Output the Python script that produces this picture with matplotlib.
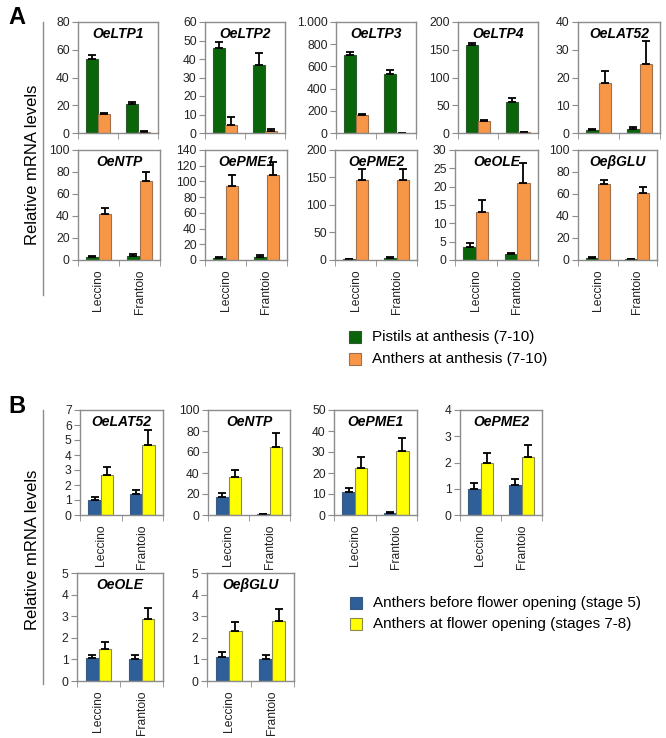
import matplotlib
matplotlib.use('Agg')
import matplotlib.pyplot as plt
from matplotlib.lines import Line2D
from matplotlib.patches import Rectangle
from matplotlib.ticker import FuncFormatter
import numpy as np

plt.rcParams['font.family'] = ['Liberation Sans', 'DejaVu Sans']

cultivars = ['Leccino', 'Frantoio']

# panel A: pistils vs anthers at anthesis (7-10)
genes_a = ['OeLTP1', 'OeLTP2', 'OeLTP3', 'OeLTP4', 'OeLAT52',
           'OeNTP', 'OePME1', 'OePME2', 'OeOLE', 'OeβGLU']
pistils_a = [[53, 21], [46, 37], [700, 530], [158, 55], [1.0, 1.5],
             [3, 4], [3, 4], [2, 4], [3.5, 1.5], [2, 1]]
pistils_a_err = [[3, 1.5], [3, 6], [30, 40], [5, 8], [0.5, 0.6],
                 [0.6, 1], [1, 2], [0.5, 1], [1.0, 0.3], [0.5, 0.3]]
anthers_a = [[14, 0.8], [4.5, 1], [165, 2], [22, 1], [18, 25],
             [42, 72], [94, 108], [146, 145], [13, 21], [69, 61]]
anthers_a_err = [[0.5, 0.3], [4, 1], [5, 1], [1, 0.5], [4.5, 8],
                 [5.5, 8], [14, 17], [20, 20], [3.3, 5.5], [3.5, 5.5]]
ymax_a = [80, 60, 1000, 200, 40, 100, 140, 200, 30, 100]
ystep_a = [20, 10, 200, 50, 10, 20, 20, 50, 5, 20]

# panel B: anthers before vs at flower opening
genes_b = ['OeLAT52', 'OeNTP', 'OePME1', 'OePME2', 'OeOLE', 'OeβGLU']
before_b = [[1.0, 1.4], [17, 1], [11, 1], [1.0, 1.15], [1.05, 1.0], [1.12, 1.0]]
before_b_err = [[0.2, 0.3], [4, 0.3], [2, 0.3], [0.22, 0.22], [0.15, 0.2], [0.2, 0.2]]
opening_b = [[2.65, 4.65], [36, 65], [22.5, 30.5], [2.0, 2.22], [1.5, 2.85], [2.3, 2.78]]
opening_b_err = [[0.55, 1.0], [7, 13], [5, 6], [0.37, 0.43], [0.32, 0.55], [0.45, 0.55]]
ymax_b = [7, 100, 50, 4, 5, 5]
ystep_b = [1, 20, 10, 1, 1, 1]

legend_a = ['Pistils at anthesis (7-10)', 'Anthers at anthesis (7-10)']
legend_b = ['Anthers before flower opening (stage 5)',
            'Anthers at flower opening (stages 7-8)']

GREEN, ORANGE = '#0a640a', '#f79646'
BLUE, YELLOW = '#2f5f98', '#ffff00'
SPINE = '#8c8c8c'

W, H = 666, 738
fig = plt.figure(figsize=(W / 100, H / 100), dpi=100)


def box(left, top, right, bottom):
    return [left / W, 1 - bottom / H, (right - left) / W, (bottom - top) / H]


def fmt(v, pos):
    return f'{v:,.0f}'.replace(',', '.')


def draw(rect, title, v1, e1, v2, e2, c1, c2, ec1, ec2, ymax, step, xlabels):
    ax = fig.add_axes(box(*rect))
    x = np.arange(len(cultivars))
    ekw = dict(ecolor='black', capsize=3, elinewidth=1.3, capthick=1.3)
    ax.bar(x - 0.15, v1, 0.3, color=c1, edgecolor=ec1, linewidth=0.8,
           yerr=[np.zeros(2), e1], error_kw=ekw)
    ax.bar(x + 0.15, v2, 0.3, color=c2, edgecolor=ec2, linewidth=0.8,
           yerr=[np.zeros(2), e2], error_kw=ekw)
    ax.set_xlim(-0.5, 1.5)
    ax.set_ylim(0, ymax)
    ax.set_yticks(np.arange(0, ymax + step / 2, step))
    ax.yaxis.set_major_formatter(FuncFormatter(fmt))
    ax.tick_params(axis='y', direction='out', length=4, color=SPINE,
                   labelsize=8.7, pad=2, labelcolor='#222222')
    ax.set_xticks([0, 1])
    if xlabels:
        ax.set_xticklabels(cultivars, rotation=90, fontsize=8.7, color='#222222')
    else:
        ax.set_xticklabels([])
    ax.tick_params(axis='x', which='major', length=0, pad=7)
    ax.set_xticks([-0.5, 0.5, 1.5], minor=True)
    ax.tick_params(axis='x', which='minor', direction='out', length=4, color=SPINE)
    for s in ax.spines.values():
        s.set_color(SPINE)
        s.set_linewidth(1.0)
    ax.text(0.5, 0.955, title, transform=ax.transAxes, ha='center', va='top',
            fontsize=10, fontweight='bold', fontstyle='italic')
    return ax


rects_a = [(78, 22, 158, 133), (205, 22, 285, 133), (336, 22, 416, 133),
           (458, 22, 538, 133), (578, 22, 660, 133),
           (78, 150, 160, 260), (205, 150, 287, 260), (335, 150, 417, 260),
           (455, 150, 538, 260), (578, 150, 657, 260)]
for i, g in enumerate(genes_a):
    draw(rects_a[i], g, pistils_a[i], pistils_a_err[i], anthers_a[i], anthers_a_err[i],
         GREEN, ORANGE, '#2d5a2d', '#a0704a', ymax_a[i], ystep_a[i], i >= 5)

rects_b = [(80, 410, 163, 515), (208, 410, 290, 515), (334, 410, 417, 515),
           (460, 410, 542, 515), (77, 573, 163, 681), (207, 573, 294, 681)]
for i, g in enumerate(genes_b):
    draw(rects_b[i], g, before_b[i], before_b_err[i], opening_b[i], opening_b_err[i],
         BLUE, YELLOW, '#3a5a80', '#8a8a50', ymax_b[i], ystep_b[i], True)

# panel letters, y labels and bracket lines
fig.text(8 / W, 1 - 18 / H, 'A', fontsize=17, fontweight='bold', va='center')
fig.text(8 / W, 1 - 407 / H, 'B', fontsize=17, fontweight='bold', va='center')
for yc, (y0, y1) in [(165, (22, 295)), (550, (410, 684))]:
    fig.text(33 / W, 1 - yc / H, 'Relative mRNA levels', rotation=90,
             ha='center', va='center', fontsize=12)
    fig.add_artist(Line2D([43 / W, 43 / W], [1 - y0 / H, 1 - y1 / H],
                          color=SPINE, linewidth=1.0))

# legends
for labels, colors, edges, x0, ys in [
        (legend_a, [GREEN, ORANGE], ['#2d5a2d', '#a0704a'], 349, [331, 353]),
        (legend_b, [BLUE, YELLOW], ['#3a5a80', '#8a8a50'], 350, [597, 618])]:
    for lab, c, ec, y in zip(labels, colors, edges, ys):
        fig.add_artist(Rectangle((x0 / W, 1 - (y + 12) / H), 12 / W, 12 / H,
                                 facecolor=c, edgecolor=ec, linewidth=0.8))
        fig.text((x0 + 23) / W, 1 - (y + 6) / H, lab, fontsize=11, va='center')

fig.savefig('out.png', dpi=100)
